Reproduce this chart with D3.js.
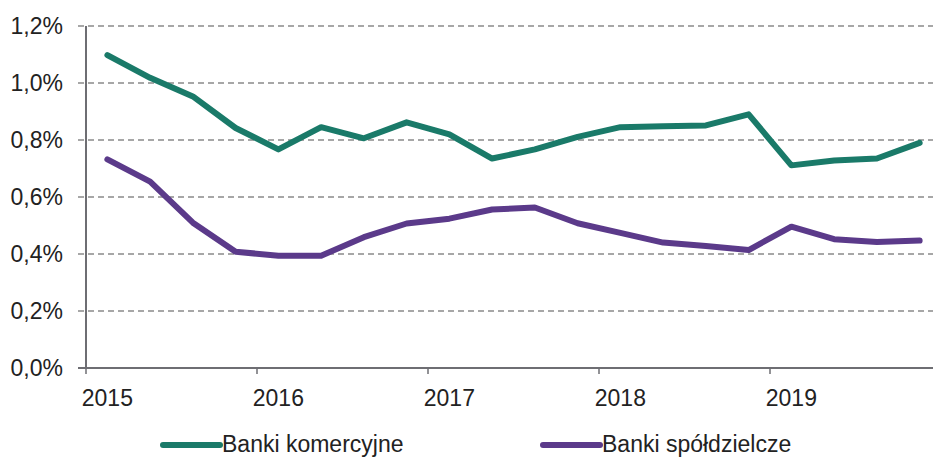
<!DOCTYPE html>
<html>
<head>
<meta charset="utf-8">
<script src="https://cdn.jsdelivr.net/npm/d3@7"></script>
<style>
  body { margin: 0; background: #fff; }
  svg { display: block; font-family: "Liberation Sans", Arial, sans-serif; }
</style>
</head>
<body>
<div id="chart"></div>
<script>
// dane kwartalne 2015-2019
const years = [2015, 2016, 2017, 2018, 2019];
const quarters = ['Q1', 'Q2', 'Q3', 'Q4'];
const categories = years.flatMap(y => quarters.map(q => y + ' ' + q));

const yTicks = [0, 0.2, 0.4, 0.6, 0.8, 1.0, 1.2];

const komercyjne = [1.098, 1.018, 0.953, 0.842, 0.767, 0.845, 0.806, 0.862, 0.820, 0.735,
                    0.767, 0.811, 0.845, 0.848, 0.851, 0.890, 0.711, 0.728, 0.735, 0.790];
const spoldzielcze = [0.732, 0.654, 0.510, 0.408, 0.394, 0.394, 0.459, 0.507, 0.524, 0.556,
                      0.563, 0.508, 0.474, 0.440, 0.428, 0.414, 0.496, 0.452, 0.442, 0.447];

const series = [
    { name: 'Banki komercyjne', values: komercyjne, color: '#1a7a69' },
    { name: 'Banki spółdzielcze', values: spoldzielcze, color: '#5b3a8a' }
];

const W = 933, H = 458;
const plotLeft = 86, plotBottom = 368, plotTop = 26;
const band = 171 / 4;

const svg = d3.select('#chart').append('svg')
    .attr('width', W).attr('height', H);

const x = d3.scaleBand()
    .domain(categories)
    .range([plotLeft, plotLeft + band * categories.length]);

const y = d3.scaleLinear()
    .domain([0, 1.2])
    .range([plotBottom, plotTop]);

// linie siatki
svg.append('g').selectAll('line')
    .data(yTicks.filter(d => d > 0))
    .enter().append('line')
    .attr('x1', plotLeft - 8).attr('x2', W)
    .attr('y1', d => y(d)).attr('y2', d => y(d))
    .attr('stroke', '#8a8a8a')
    .attr('stroke-width', 1.5)
    .attr('stroke-dasharray', '6,4');

// etykiety osi Y
const fmt = d => d.toFixed(1).replace('.', ',') + '%';
svg.append('g').selectAll('text')
    .data(yTicks)
    .enter().append('text')
    .attr('x', 63)
    .attr('y', d => y(d))
    .attr('dy', '0.36em')
    .attr('text-anchor', 'end')
    .style('font-size', '23px')
    .style('fill', '#222')
    .text(fmt);

// oś Y
svg.append('line')
    .attr('x1', plotLeft).attr('x2', plotLeft)
    .attr('y1', plotTop).attr('y2', plotBottom)
    .attr('stroke', '#6e6e73').attr('stroke-width', 2);

// oś X
svg.append('line')
    .attr('x1', plotLeft - 8).attr('x2', W)
    .attr('y1', plotBottom).attr('y2', plotBottom)
    .attr('stroke', '#6e6e73').attr('stroke-width', 2);

svg.append('g').selectAll('line')
    .data(years)
    .enter().append('line')
    .attr('x1', d => x(d + ' Q1')).attr('x2', d => x(d + ' Q1'))
    .attr('y1', plotBottom).attr('y2', plotBottom + 6)
    .attr('stroke', '#6e6e73').attr('stroke-width', 1.5);

svg.append('g').selectAll('text')
    .data(years)
    .enter().append('text')
    .attr('x', d => x(d + ' Q1') + x.bandwidth() / 2)
    .attr('y', 406)
    .attr('text-anchor', 'middle')
    .style('font-size', '23px')
    .style('fill', '#222')
    .text(d => d);

// linie danych
const line = d3.line()
    .x((d, i) => x(categories[i]) + x.bandwidth() / 2)
    .y(d => y(d));

series.forEach(s => {
    svg.append('path')
        .datum(s.values)
        .attr('d', line)
        .attr('fill', 'none')
        .attr('stroke', s.color)
        .attr('stroke-width', 6)
        .attr('stroke-linejoin', 'round')
        .attr('stroke-linecap', 'round');
});

// legenda
const legendX = [163, 543];
const lg = svg.append('g').selectAll('g')
    .data(series)
    .enter().append('g')
    .attr('transform', (d, i) => `translate(${legendX[i]},445)`);

lg.append('line')
    .attr('x1', 0).attr('x2', 57)
    .attr('stroke', d => d.color)
    .attr('stroke-width', 6)
    .attr('stroke-linecap', 'round');

lg.append('text')
    .attr('x', 59)
    .attr('y', 7)
    .style('font-size', '23px')
    .style('fill', '#222')
    .text(d => d.name);
</script>
</body>
</html>
